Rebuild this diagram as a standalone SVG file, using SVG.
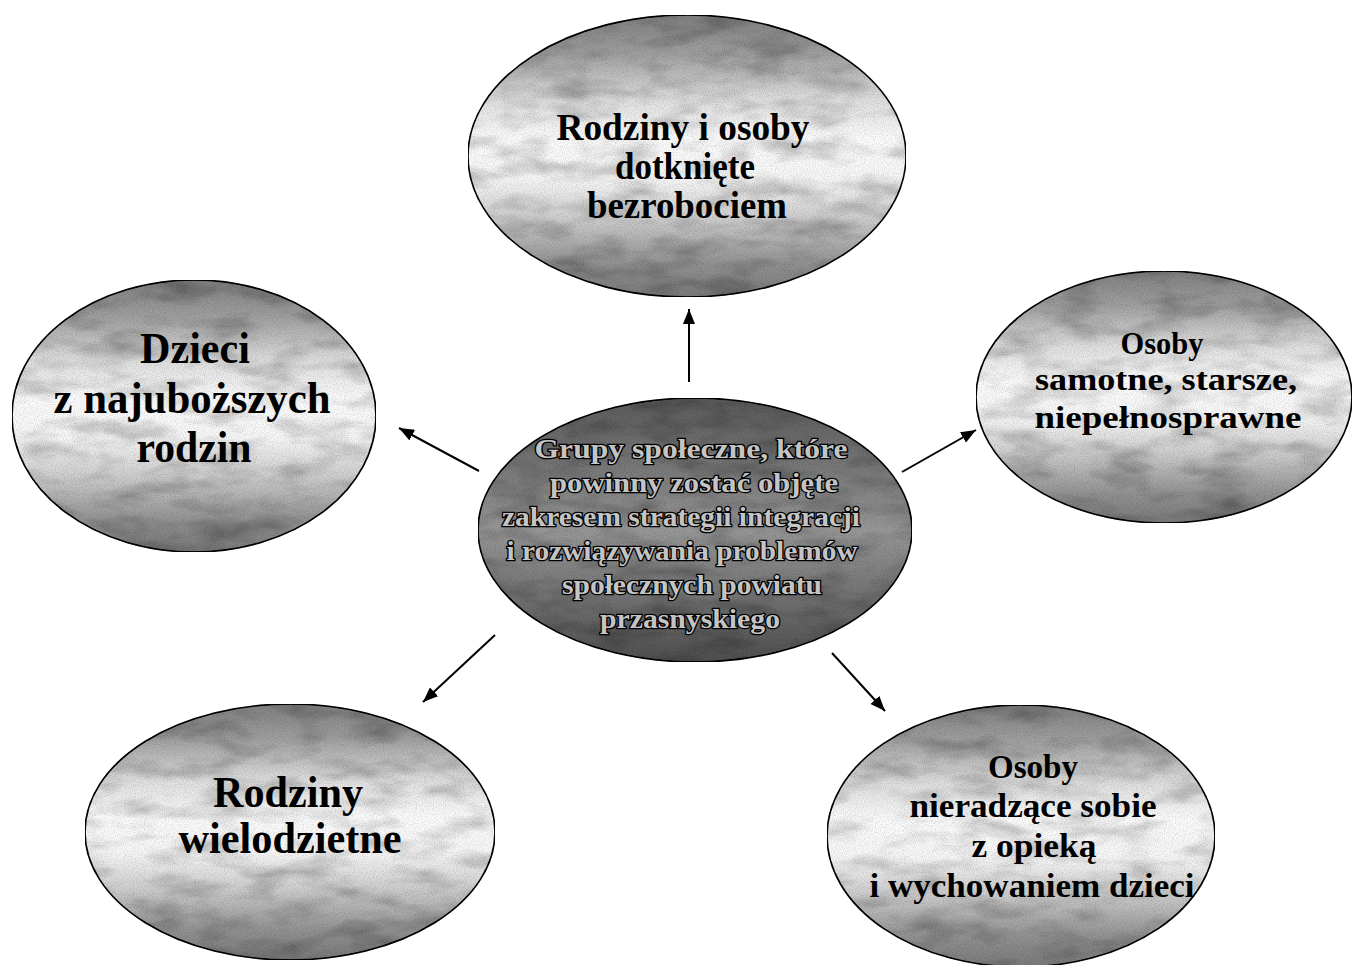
<svg xmlns="http://www.w3.org/2000/svg" width="1353" height="965" viewBox="0 0 1353 965">
<style>
.bg{fill:#fff}
.outer{fill:url(#gOuter);stroke:#000;stroke-width:1.6;filter:url(#mottle)}
.center{fill:url(#gCenter);stroke:#000;stroke-width:1.6;filter:url(#mottle)}
.lbl{font-family:"Liberation Serif","Times New Roman",serif;font-weight:bold;fill:#000;text-anchor:middle}
.clbl{font-family:"Liberation Serif","Times New Roman",serif;font-weight:bold;fill:#c4c4c4;stroke:#000;stroke-width:2.6;paint-order:stroke;text-anchor:middle;font-size:28px}
.conn{stroke:#000;stroke-width:2;fill:none;marker-end:url(#ah)}
</style>
<defs>
<linearGradient id="gOuter" x1="0" y1="0" x2="0" y2="1">
<stop offset="0" stop-color="#808080"/>
<stop offset="0.14" stop-color="#a2a2a2"/>
<stop offset="0.3" stop-color="#e0e0e0"/>
<stop offset="0.44" stop-color="#fdfdfd"/>
<stop offset="0.58" stop-color="#f8f8f8"/>
<stop offset="0.72" stop-color="#cfcfcf"/>
<stop offset="0.88" stop-color="#949494"/>
<stop offset="1" stop-color="#7a7a7a"/>
</linearGradient>
<linearGradient id="gCenter" x1="0" y1="0" x2="0" y2="1">
<stop offset="0" stop-color="#5c5c5c"/>
<stop offset="0.25" stop-color="#787878"/>
<stop offset="0.5" stop-color="#999"/>
<stop offset="0.75" stop-color="#747474"/>
<stop offset="1" stop-color="#505050"/>
</linearGradient>
<filter id="mottle" x="0" y="0" width="1" height="1">
<feTurbulence type="fractalNoise" baseFrequency="0.02 0.05" numOctaves="3" seed="11" result="t"/>
<feColorMatrix in="t" type="matrix" values="0 0 0 0 0  0 0 0 0 0  0 0 0 0 0  1.0 0 0 0 -0.42" result="d"/>
<feComposite in="d" in2="SourceAlpha" operator="in" result="dc"/>
<feTurbulence type="fractalNoise" baseFrequency="0.9" numOctaves="1" seed="3" result="g"/>
<feColorMatrix in="g" type="matrix" values="0 0 0 0 0  0 0 0 0 0  0 0 0 0 0  0.7 0 0 0 -0.28" result="gd"/>
<feComposite in="gd" in2="SourceAlpha" operator="in" result="gc"/>
<feMerge><feMergeNode in="SourceGraphic"/><feMergeNode in="dc"/><feMergeNode in="gc"/></feMerge>
</filter>
<marker id="ah" markerUnits="userSpaceOnUse" markerWidth="16" markerHeight="12" refX="15" refY="6" orient="auto">
<path d="M0,0 L15,6 L0,12 z" fill="#000"/>
</marker>
</defs>
<rect class="bg" x="0" y="0" width="1353" height="965"/>

<g id="connectors">
<line class="conn" x1="689" y1="382" x2="689" y2="309"/>
<line class="conn" x1="902" y1="472" x2="976" y2="430"/>
<line class="conn" x1="479" y1="471" x2="399" y2="428"/>
<line class="conn" x1="495" y1="635" x2="423" y2="702"/>
<line class="conn" x1="832" y1="653" x2="885" y2="711"/>
</g>

<g id="node-top">
<ellipse class="outer" cx="687" cy="156" rx="219" ry="141"/>
<text class="lbl" font-size="37"><tspan x="683" y="140" textLength="253" lengthAdjust="spacingAndGlyphs">Rodziny i osoby</tspan><tspan x="685" y="179" textLength="140" lengthAdjust="spacingAndGlyphs">dotknięte</tspan><tspan x="687" y="218" textLength="200" lengthAdjust="spacingAndGlyphs">bezrobociem</tspan></text>
</g>

<g id="node-left">
<ellipse class="outer" cx="194" cy="416" rx="182" ry="136"/>
<text class="lbl" font-size="44"><tspan x="195" y="363" textLength="110" lengthAdjust="spacingAndGlyphs">Dzieci</tspan><tspan x="192" y="413" textLength="277" lengthAdjust="spacingAndGlyphs">z najuboższych</tspan><tspan x="194" y="462" textLength="115" lengthAdjust="spacingAndGlyphs">rodzin</tspan></text>
</g>

<g id="node-right">
<ellipse class="outer" cx="1164" cy="397" rx="188" ry="126"/>
<text class="lbl" font-size="32"><tspan x="1162" y="354" textLength="83" lengthAdjust="spacingAndGlyphs">Osoby</tspan><tspan x="1166" y="390" textLength="262" lengthAdjust="spacingAndGlyphs">samotne, starsze,</tspan><tspan x="1168" y="428" textLength="267" lengthAdjust="spacingAndGlyphs">niepełnosprawne</tspan></text>
</g>

<g id="node-bottom-left">
<ellipse class="outer" cx="290" cy="832" rx="205" ry="128"/>
<text class="lbl" font-size="44"><tspan x="288" y="807" textLength="150" lengthAdjust="spacingAndGlyphs">Rodziny</tspan><tspan x="290" y="853" textLength="223" lengthAdjust="spacingAndGlyphs">wielodzietne</tspan></text>
</g>

<g id="node-bottom-right">
<ellipse class="outer" cx="1021" cy="836" rx="194" ry="131"/>
<text class="lbl" font-size="33"><tspan x="1033" y="778" textLength="90" lengthAdjust="spacingAndGlyphs">Osoby</tspan><tspan x="1033" y="817" textLength="247" lengthAdjust="spacingAndGlyphs">nieradzące sobie</tspan><tspan x="1034" y="857" textLength="125" lengthAdjust="spacingAndGlyphs">z opieką</tspan><tspan x="1032" y="897" textLength="325" lengthAdjust="spacingAndGlyphs">i wychowaniem dzieci</tspan></text>
</g>

<g id="node-center">
<ellipse class="center" cx="695" cy="530" rx="217" ry="132"/>
<text class="clbl"><tspan x="691" y="458" textLength="313" lengthAdjust="spacingAndGlyphs">Grupy społeczne, które</tspan><tspan x="694" y="492" textLength="288" lengthAdjust="spacingAndGlyphs">powinny zostać objęte</tspan><tspan x="681" y="526" textLength="358" lengthAdjust="spacingAndGlyphs">zakresem strategii integracji</tspan><tspan x="682" y="560" textLength="351" lengthAdjust="spacingAndGlyphs">i rozwiązywania problemów</tspan><tspan x="692" y="594" textLength="260" lengthAdjust="spacingAndGlyphs">społecznych powiatu</tspan><tspan x="690" y="628" textLength="180" lengthAdjust="spacingAndGlyphs">przasnyskiego</tspan></text>
</g>
</svg>
